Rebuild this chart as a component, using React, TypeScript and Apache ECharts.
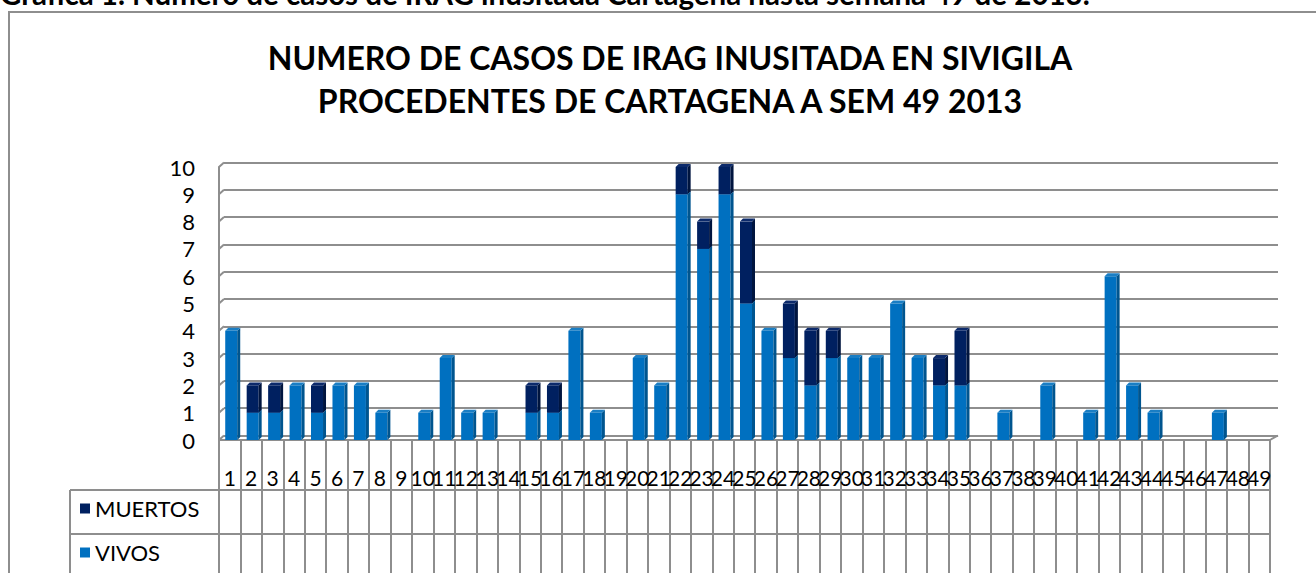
import React, { useEffect, useRef } from "react";
import * as echarts from "echarts";

const caption = "Grafica 1. Numero de casos de IRAG inusitada Cartagena hasta semana 49 de 2013.";
const titleLines = ["NUMERO DE CASOS DE IRAG INUSITADA EN SIVIGILA", "PROCEDENTES DE CARTAGENA A SEM 49 2013"];
const weeks = ["1","2","3","4","5","6","7","8","9","10","11","12","13","14","15","16","17","18","19","20","21","22","23","24","25","26","27","28","29","30","31","32","33","34","35","36","37","38","39","40","41","42","43","44","45","46","47","48","49"];
const vivos = [4,1,1,2,1,2,2,1,0,1, 3,1,1,0,1,1,4,1,0,3, 2,9,7,9,5,4,3,2,3,3, 3,5,3,2,2,0,1,0,2,0, 1,6,2,1,0,0,1,0,0];
const muertos = [0,1,1,0,1,0,0,0,0,0, 0,0,0,0,1,1,0,0,0,0, 0,1,1,1,3,0,2,2,1,0, 0,0,0,1,2,0,0,0,0,0, 0,0,0,0,0,0,0,0,0];
const yTicks = [0,1,2,3,4,5,6,7,8,9,10];
const seriesNames = ["MUERTOS", "VIVOS"];

const FONT = "Lato, 'Open Sans', sans-serif";
const GRID_COLOR = "#8e8e8e";
const VIVOS_COLORS = { front: "#0070c0", side: "#00558f", top: "#1a7ec4" };
const MUERTOS_COLORS = { front: "#002060", side: "#00153f", top: "#0c2a6b" };

function barRenderer(colors: { front: string; side: string; top: string }) {
  return (params: any, api: any) => {
    const i = api.value(0);
    const b = api.value(1);
    const t = api.value(2);
    if (!(t > b)) return null;
    const p0 = api.coord([i, b]);
    const p1 = api.coord([i, t]);
    const bw = 12;
    const d = 3;
    const x = p0[0] - bw / 2 + 1.5;
    const yb = p0[1];
    const yt = p1[1];
    return {
      type: "group",
      children: [
        { type: "rect", shape: { x, y: yt, width: bw, height: yb - yt }, style: { fill: colors.front } },
        {
          type: "polygon",
          shape: { points: [[x + bw, yt], [x + bw + d, yt - d], [x + bw + d, yb - d], [x + bw, yb]] },
          style: { fill: colors.side },
        },
        {
          type: "polygon",
          shape: { points: [[x, yt], [x + d, yt - d], [x + bw + d, yt - d], [x + bw, yt]] },
          style: { fill: colors.top },
        },
      ],
    };
  };
}

export default function App() {
  const ref = useRef<HTMLDivElement>(null);
  useEffect(() => {
    if (!ref.current) return;
    const chart = echarts.init(ref.current, null, { renderer: "svg" });
    const vivosData = weeks.map((_, i) => [i, 0, vivos[i]]);
    const muertosData = weeks.map((_, i) => [i, vivos[i], vivos[i] + muertos[i]]);
    const wallData = yTicks.map((v) => [0, v]);

    const option: any = {
      animation: false,
      backgroundColor: "#ffffff",
      title: {
        text: titleLines.join("\n"),
        left: 665,
        top: 31,
        textAlign: "center",
        textStyle: { fontFamily: FONT, fontSize: 32, fontWeight: "bold", color: "#000", lineHeight: 43 },
      },
      legend: {
        data: seriesNames,
        orient: "vertical",
        left: 80,
        top: 497,
        height: 120,
        padding: 0,
        itemWidth: 10,
        itemHeight: 10,
        itemGap: 21,
        icon: "rect",
        textStyle: { fontFamily: FONT, fontSize: 22, color: "#000", lineHeight: 23 },
      },
      grid: [
        { left: 219, right: 46, top: 167, bottom: 133 },
        { left: 224, right: 38, top: 162.5, bottom: 137.5 },
      ],
      xAxis: [
        {
          type: "category",
          gridIndex: 0,
          data: weeks,
          boundaryGap: true,
          axisLine: { show: true, lineStyle: { color: GRID_COLOR, width: 2 } },
          axisTick: { show: true, interval: 0, length: 133, lineStyle: { color: GRID_COLOR, width: 2 } },
          axisLabel: { interval: 0, fontFamily: FONT, fontSize: 21, color: "#000", margin: 27 },
          splitLine: { show: false },
        },
        {
          type: "category",
          gridIndex: 1,
          data: weeks,
          show: false,
        },
      ],
      yAxis: [
        {
          type: "value",
          gridIndex: 0,
          min: 0,
          max: 10,
          interval: 1,
          axisLine: { show: true, lineStyle: { color: GRID_COLOR, width: 2 } },
          axisTick: { show: false },
          axisLabel: { fontFamily: FONT, fontSize: 22, color: "#000", margin: 24, padding: [4, 0, 0, 0] },
          splitLine: { show: false },
        },
        {
          type: "value",
          gridIndex: 1,
          min: 0,
          max: 10,
          interval: 1,
          axisLine: { show: false },
          axisTick: { show: false },
          axisLabel: { show: false },
          splitLine: { show: true, lineStyle: { color: GRID_COLOR, width: 2 } },
        },
      ],
      series: [
        {
          name: "wall",
          type: "custom",
          xAxisIndex: 0,
          yAxisIndex: 0,
          data: wallData,
          encode: { x: 0, y: 1 },
          silent: true,
          renderItem: (params: any, api: any) => {
            const v = api.value(1);
            const y = api.coord([0, v])[1];
            const x0 = params.coordSys.x;
            const children: any[] = [
              { type: "line", shape: { x1: x0, y1: y, x2: x0 + 5, y2: y - 4.5 }, style: { stroke: GRID_COLOR, lineWidth: 2 } },
            ];
            if (v === 0) {
              const x1 = params.coordSys.x + params.coordSys.width;
              children.push({ type: "line", shape: { x1, y1: y, x2: x1 + 8, y2: y - 4.5 }, style: { stroke: GRID_COLOR, lineWidth: 2 } });
            }
            return { type: "group", children };
          },
        },
        {
          name: "VIVOS",
          type: "custom",
          xAxisIndex: 0,
          yAxisIndex: 0,
          data: vivosData,
          encode: { x: 0, y: [1, 2] },
          itemStyle: { color: VIVOS_COLORS.front },
          renderItem: barRenderer(VIVOS_COLORS),
        },
        {
          name: "MUERTOS",
          type: "custom",
          xAxisIndex: 0,
          yAxisIndex: 0,
          data: muertosData,
          encode: { x: 0, y: [1, 2] },
          itemStyle: { color: MUERTOS_COLORS.front },
          renderItem: barRenderer(MUERTOS_COLORS),
        },
      ],
      graphic: [
        {
          type: "text",
          left: 0,
          top: -22,
          style: { text: caption, fontFamily: FONT, fontSize: 29.5, fontWeight: "bold", fill: "#000" },
        },
        {
          type: "polyline",
          shape: { points: [[9, 573], [9, 12], [1316, 12]] },
          style: { stroke: GRID_COLOR, lineWidth: 2, fill: "none" },
        },
        { type: "line", shape: { x1: 70, y1: 490, x2: 1270, y2: 490 }, style: { stroke: GRID_COLOR, lineWidth: 2 } },
        { type: "line", shape: { x1: 70, y1: 534, x2: 1270, y2: 534 }, style: { stroke: GRID_COLOR, lineWidth: 2 } },
        { type: "line", shape: { x1: 70, y1: 490, x2: 70, y2: 573 }, style: { stroke: GRID_COLOR, lineWidth: 2 } },
      ],
    };
    chart.setOption(option);
    return () => chart.dispose();
  }, []);
  return <div ref={ref} style={{ position: "fixed", left: 0, top: 0, width: 1316, height: 573 }} />;
}
